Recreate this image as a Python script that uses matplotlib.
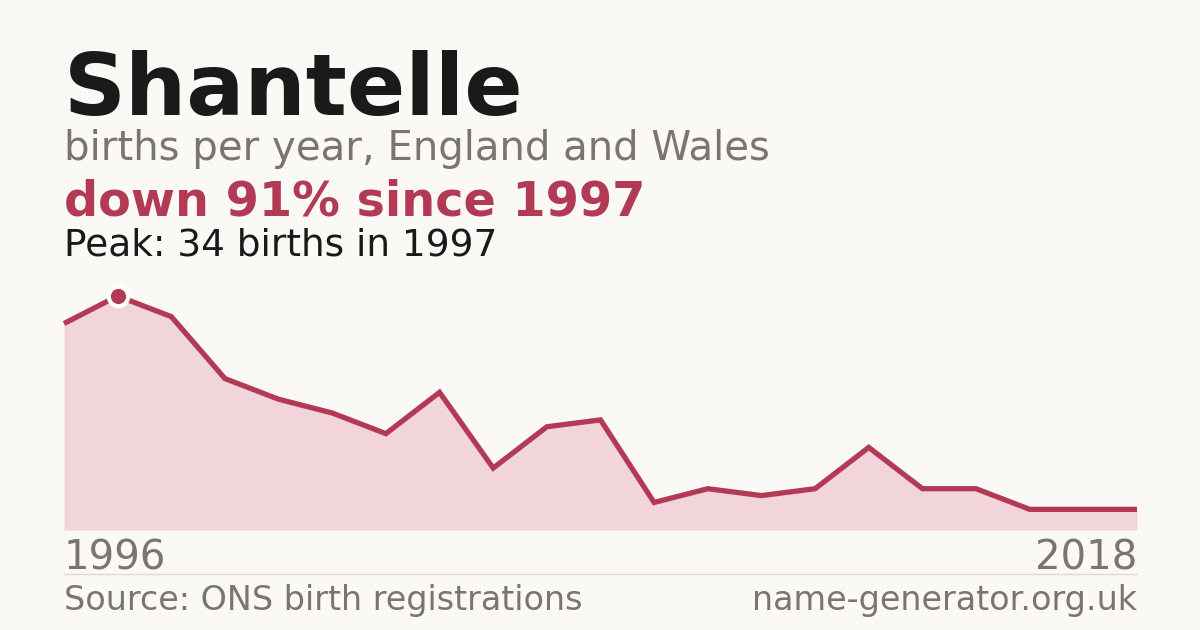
import matplotlib
matplotlib.use("Agg")
import matplotlib.pyplot as plt

# Births per year for "Shantelle"
years_label = ["1996", "2018"]
births = [30, 34, 31, 22, 19, 17, 14, 20, 9, 15, 16, 4, 6, 5, 6, 12, 6, 6, 3, 3, 3]
peak_idx = 1

BG = "#faf9f5"
RED = "#b33a55"
FILL = "#f2d5da"
GREY = "#7a756d"
DARK = "#1a1a1a"

fig = plt.figure(figsize=(12, 6.3), dpi=100, facecolor=BG)

# chart area: x 64..1137 px, baseline at y=530, peak (34) at y=296
ax = fig.add_axes([64 / 1200, 1 - 530 / 630, 1073 / 1200, 234 / 630])
ax.set_facecolor(BG)
xs = list(range(len(births)))
ax.fill_between(xs, births, 0, color=FILL, linewidth=0)
ax.plot(xs, births, color=RED, linewidth=3.8, solid_joinstyle="miter",
        solid_capstyle="butt", clip_on=False)
ax.plot(xs[peak_idx], births[peak_idx], "o", markersize=14, color=RED,
        markeredgecolor="white", markeredgewidth=3, clip_on=False, zorder=5)
ax.set_xlim(0, len(births) - 1)
ax.set_ylim(0, max(births))
ax.axis("off")

# header text
fig.text(64 / 1200, 1 - 115 / 630, "Shantelle", fontsize=62, fontweight="bold",
         color=DARK, va="baseline")
fig.text(64 / 1200, 1 - 160 / 630, "births per year, England and Wales", fontsize=29,
         color=GREY, va="baseline")
fig.text(64 / 1200, 1 - 215 / 630, "down 91% since 1997", fontsize=34.4, fontweight="bold",
         color=RED, va="baseline")
fig.text(64 / 1200, 1 - 255 / 630, "Peak: 34 births in 1997", fontsize=27,
         color=DARK, va="baseline")

# year labels
fig.text(64 / 1200, 1 - 570 / 630, years_label[0], fontsize=29, color=GREY, va="baseline")
fig.text(1137 / 1200, 1 - 570 / 630, years_label[1], fontsize=29, color=GREY,
         va="baseline", ha="right")

# separator
fig.add_artist(plt.Line2D([64 / 1200, 1137 / 1200], [1 - 574 / 630, 1 - 574 / 630],
                          color="#dddad3", linewidth=1))

# footer
fig.text(64 / 1200, 1 - 610 / 630, "Source: ONS birth registrations", fontsize=24,
         color=GREY, va="baseline")
fig.text(1137 / 1200, 1 - 610 / 630, "name-generator.org.uk", fontsize=24, color=GREY,
         va="baseline", ha="right")

fig.savefig("out.png", dpi=100, facecolor=BG)
